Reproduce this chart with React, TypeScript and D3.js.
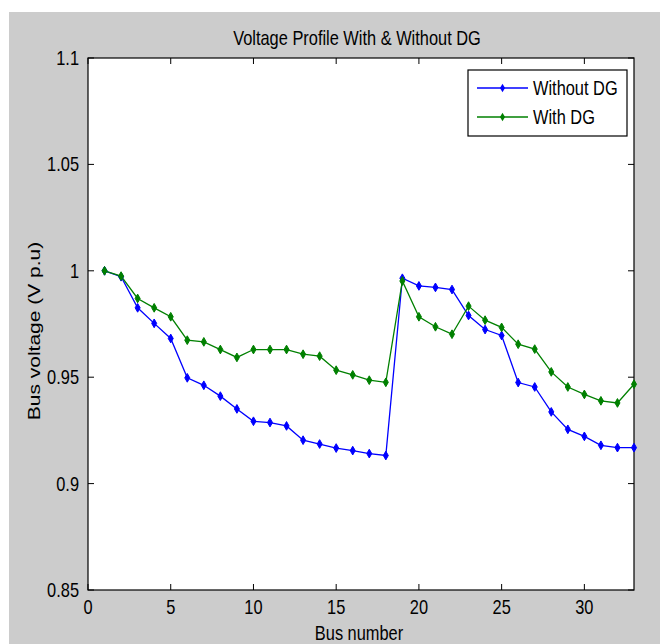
import React, { useEffect, useRef } from 'react';
import * as d3 from 'd3';

// bus numbers 1..33
const buses: number[] = [
  1, 2, 3, 4, 5, 6, 7, 8, 9, 10, 11, 12, 13, 14, 15, 16, 17,
  18, 19, 20, 21, 22, 23, 24, 25, 26, 27, 28, 29, 30, 31, 32, 33,
];

const withoutDG: number[] = [
  1.0, 0.9972, 0.9826, 0.9753, 0.9682, 0.9497, 0.9462, 0.9411, 0.9351, 0.9293, 0.9287,
  0.9271, 0.9204, 0.9186, 0.9167, 0.9155, 0.9141, 0.9132, 0.9965, 0.9929, 0.9922, 0.9912,
  0.979, 0.9724, 0.9696, 0.9475, 0.9454, 0.9337, 0.9255, 0.9222, 0.918, 0.9169, 0.9169,
];

const withDG: number[] = [
  1.0, 0.9975, 0.987, 0.9826, 0.9784, 0.9674, 0.9666, 0.963, 0.9593, 0.963, 0.963,
  0.963, 0.9608, 0.9599, 0.9533, 0.9511, 0.9486, 0.9476, 0.9952, 0.9784, 0.9737, 0.9702,
  0.9834, 0.9768, 0.9734, 0.9655, 0.9632, 0.9525, 0.9454, 0.9419, 0.9389, 0.9379, 0.9467,
];

const xTicks: number[] = [0, 5, 10, 15, 20, 25, 30];
const yTicks: number[] = [0.85, 0.9, 0.95, 1, 1.05, 1.1];
const yTickLabels: string[] = ['0.85', '0.9', '0.95', '1', '1.05', '1.1'];

const seriesNames: string[] = ['Without DG', 'With DG'];
const seriesColors: string[] = ['#0000ff', '#008000'];

const App = () => {
  const ref = useRef<SVGSVGElement>(null);

  useEffect(() => {
    const width = 667;
    const height = 644;
    const left = 88;
    const right = 634;
    const top = 58;
    const bottom = 590;
    const font = "'Liberation Sans', Arial, sans-serif";
    const sx = 0.82; // the reference text looks horizontally squeezed

    const svg = d3.select(ref.current);
    svg.selectAll('*').remove();
    svg.attr('width', width).attr('height', height);

    // figure background
    svg.append('rect')
      .attr('x', 9).attr('y', 12)
      .attr('width', 651).attr('height', height - 12)
      .attr('fill', '#cccccc');

    const x = d3.scaleLinear().domain([0, 33]).range([left, right]);
    const y = d3.scaleLinear().domain([0.85, 1.1]).range([bottom, top]);

    svg.append('rect')
      .attr('x', left).attr('y', top)
      .attr('width', right - left).attr('height', bottom - top)
      .attr('fill', '#fff');

    const label = (tx: number, ty: number, text: string, anchor: string, size: number) =>
      svg.append('text')
        .attr('transform', `translate(${tx},${ty}) scale(${sx},1)`)
        .attr('text-anchor', anchor)
        .attr('font-family', font)
        .attr('font-size', size)
        .attr('fill', '#000')
        .text(text);

    // ticks, inward on all four sides
    const tl = 6;
    xTicks.forEach(t => {
      svg.append('line').attr('x1', x(t)).attr('x2', x(t)).attr('y1', bottom).attr('y2', bottom - tl)
        .attr('stroke', '#000');
      svg.append('line').attr('x1', x(t)).attr('x2', x(t)).attr('y1', top).attr('y2', top + tl)
        .attr('stroke', '#000');
      label(x(t), bottom + 24, String(t), 'middle', 20);
    });
    yTicks.forEach((t, i) => {
      svg.append('line').attr('x1', left).attr('x2', left + tl).attr('y1', y(t)).attr('y2', y(t))
        .attr('stroke', '#000');
      svg.append('line').attr('x1', right).attr('x2', right - tl).attr('y1', y(t)).attr('y2', y(t))
        .attr('stroke', '#000');
      label(left - 9, y(t) + 7, yTickLabels[i], 'end', 20);
    });

    // plot box
    svg.append('rect')
      .attr('x', left).attr('y', top)
      .attr('width', right - left).attr('height', bottom - top)
      .attr('fill', 'none').attr('stroke', '#000').attr('stroke-width', 1.2);

    const line = d3.line<number>()
      .x((_, i) => x(buses[i]))
      .y(d => y(d));

    const diamond = d3.symbol().type(d3.symbolDiamond).size(22);

    [withoutDG, withDG].forEach((vals, k) => {
      svg.append('path')
        .datum(vals)
        .attr('d', line)
        .attr('fill', 'none')
        .attr('stroke', seriesColors[k])
        .attr('stroke-width', 1.3);
      svg.append('g')
        .selectAll('path')
        .data(vals)
        .join('path')
        .attr('transform', (d, i) => `translate(${x(buses[i])},${y(d)})`)
        .attr('d', diamond)
        .attr('fill', seriesColors[k])
        .attr('stroke', seriesColors[k])
        .attr('stroke-width', 1);
    });

    // legend
    const lg = svg.append('g');
    lg.append('rect')
      .attr('x', 468).attr('y', 70).attr('width', 159).attr('height', 66)
      .attr('fill', '#fff').attr('stroke', '#000').attr('stroke-width', 1.2);
    seriesNames.forEach((name, k) => {
      const ly = 88 + k * 29;
      lg.append('line').attr('x1', 477).attr('x2', 528).attr('y1', ly).attr('y2', ly)
        .attr('stroke', seriesColors[k]).attr('stroke-width', 1.3);
      lg.append('path').attr('transform', `translate(502.5,${ly})`).attr('d', diamond)
        .attr('fill', seriesColors[k]);
      lg.append('text')
        .attr('transform', `translate(533,${ly + 7}) scale(${sx},1)`)
        .attr('font-family', font).attr('font-size', 20)
        .text(name);
    });

    // title and axis titles
    label((left + right) / 2 - 4, 45, 'Voltage Profile With & Without DG', 'middle', 20);
    label((left + right) / 2 - 2, 640, 'Bus number', 'middle', 20);
    svg.append('text')
      .attr('transform', `translate(40,${331}) rotate(-90) scale(1,${sx})`)
      .attr('text-anchor', 'middle')
      .attr('font-family', font)
      .attr('font-size', 21)
      .text('Bus voltage (V p.u)');
  }, []);

  return (
    <div>
      <svg ref={ref} style={{ position: 'absolute', left: 0, top: 0 }}></svg>
    </div>
  );
};

export default App;
